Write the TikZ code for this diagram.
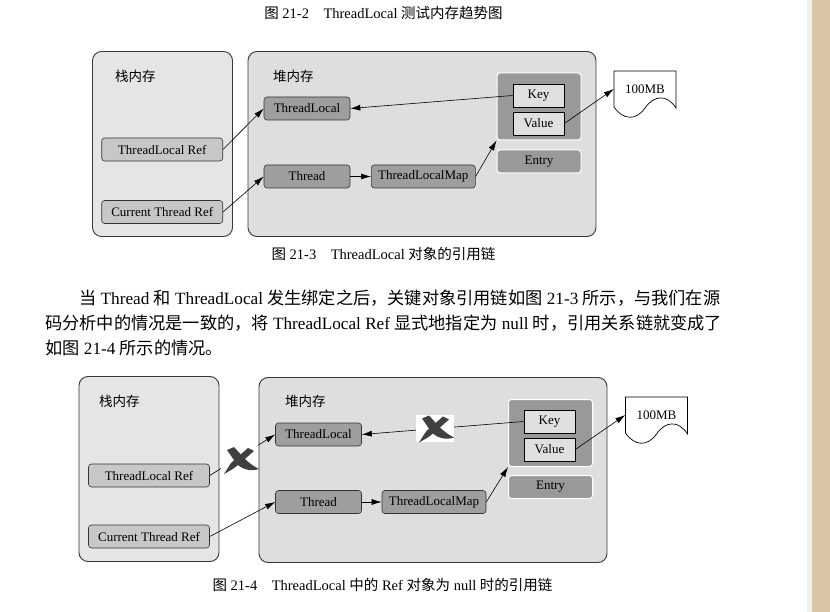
\documentclass[tikz,border=0pt]{standalone}
\usepackage{fontspec}
\setmainfont{Liberation Serif}
\newfontfamily\cjk{Noto Sans CJK SC}
\usepackage{xcolor}
\usetikzlibrary{arrows.meta, positioning}

\definecolor{paper}{HTML}{D9C6A5}

\tikzset{
    brushx/.pic={
        \fill[black!75] (-13,-10) -- (-6,-13) -- (4,-2) .. controls (9,3) and (13,6) .. (19,9) .. controls (10,12) and (1,9) .. (-4,3) -- cycle;
        \fill[black!75] (8,-12) -- (14,-9) -- (-2,5) .. controls (-7,9) .. (-16,14) .. controls (-13,8) .. (-9,3) -- cycle;
    }
}

\begin{document}
\begin{tikzpicture}[
    x=1pt, y=-1pt,
    mem/.style={draw=black!78, line width=0.9pt, rounded corners=9pt, fill=black!10, minimum width=140pt, minimum height=185pt, inner sep=0pt},
    heapbox/.style={mem, fill=black!13, minimum width=348pt},
    title/.style={font=\cjk\fontsize{13.5}{13.5}\selectfont, anchor=west, inner sep=0pt},
    obj/.style={draw=black!80, line width=0.6pt, rounded corners=3pt, fill=black!38, minimum width=86pt, minimum height=23pt, inner sep=0pt, font=\fontsize{13}{13}\selectfont},
    ref/.style={obj, fill=black!22, minimum width=121pt},
    map/.style={obj, minimum width=104pt},
    group/.style={draw=white, line width=1pt, rounded corners=3pt, fill=black!40, minimum width=84pt, inner sep=0pt, font=\fontsize{13}{13}\selectfont},
    kv/.style={draw=black, line width=0.6pt, fill=black!12, minimum width=51pt, minimum height=23pt, inner sep=0pt, font=\fontsize{13}{13}\selectfont},
    doc/.style={minimum width=62pt, minimum height=36pt, inner sep=0pt, font=\fontsize{13}{13}\selectfont},
    docline/.style={draw=black, line width=0.7pt},
    arrow/.style={-{Latex[length=10pt, width=6pt]}, line width=0.6pt},
    caption/.style={font=\fontsize{14.5}{14.5}\selectfont, anchor=base, inner sep=0pt},
    body/.style={font=\fontsize{17.2}{17.2}\selectfont, anchor=base west, inner sep=0pt}
]
    \useasboundingbox (0,0) rectangle (830,612);
    % page edge
    \fill[black!6] (807,0) rectangle (811.5,612);
    \fill[paper] (811.5,0) rectangle (830,612);

    % Figure 21-2 caption
    \node[caption] (cap212) at (383.5,18.5) {{\cjk 图} 21-2\hspace{1em}ThreadLocal {\cjk 测试内存趋势图}};

    % Figure 21-3: memory areas
    \node[mem] (stack1) at (162.5,144) {};
    \node[heapbox] (heap1) at (422,144) {};
    \node[title] (stacklbl1) at (115,76.5) {栈内存};
    \node[title] (heaplbl1) at (273,76.5) {堆内存};

    % Figure 21-3: objects
    \node[obj] (tl1) at (307,108.5) {ThreadLocal};
    \node[ref] (tlref1) at (162.2,149.5) {ThreadLocal Ref};
    \node[ref] (ctref1) at (162.2,212) {Current Thread Ref};
    \node[obj] (thread1) at (307,176.5) {Thread};
    \node[map] (map1) at (423.3,176.5) {ThreadLocalMap};
    \node[group, minimum height=67pt] (grp1) at (539,106.5) {};
    \node[kv] (key1) at (538.5,95.5) {Key};
    \node[kv] (value1) at (538.5,123.5) {Value};
    \node[group, minimum height=23pt] (entry1) at (539,161.5) {Entry};
    \node[doc] (mb1) at (645,89) {100MB};
    \draw[docline, shift={(mb1.center)}] (-31,18) -- (-31,-18) -- (31,-18) -- (31,19)
        .. controls (22,5) and (9,6) .. (0,19) .. controls (-9,32) and (-22,31) .. (-31,18);

    % Figure 21-3: references
    \draw[arrow] (tlref1.east) -- (tl1.west);
    \draw[arrow] (ctref1.east) -- (thread1.west);
    \draw[arrow] (thread1) -- (map1);
    \draw[arrow] (map1.east) -- (grp1.south west);
    \draw[arrow] (key1.west) -- (tl1.east);
    \draw[arrow] (value1.east) -- (mb1.west);

    \node[caption] (cap213) at (383.5,259.5) {{\cjk 图} 21-3\hspace{1em}ThreadLocal {\cjk 对象的引用链}};

    % Text
    \node[body] (line1) at (79,304.5) {{\cjk 当} Thread {\cjk 和} ThreadLocal {\cjk 发生绑定之后，关键对象引用链如图} 21-3 {\cjk 所示，与我们在源}};
    \node[body] (line2) at (45,329.5) {{\cjk 码分析中的情况是一致的，将} ThreadLocal Ref {\cjk 显式地指定为} null {\cjk 时，引用关系链就变成了}};
    \node[body] (line3) at (45,354.5) {{\cjk 如图} 21-4 {\cjk 所示的情况。}};

    % Figure 21-4: memory areas
    \node[mem] (stack2) at (149,469) {};
    \node[heapbox] (heap2) at (433,470) {};
    \node[title] (stacklbl2) at (99,401.5) {栈内存};
    \node[title] (heaplbl2) at (285,401.5) {堆内存};

    % Figure 21-4: objects
    \node[obj] (tl2) at (318.5,434.5) {ThreadLocal};
    \node[ref] (tlref2) at (149,475.5) {ThreadLocal Ref};
    \node[ref] (ctref2) at (149,536.5) {Current Thread Ref};
    \node[obj] (thread2) at (318.5,502) {Thread};
    \node[map] (map2) at (434,502) {ThreadLocalMap};
    \node[group, minimum height=67pt] (grp2) at (550.5,433) {};
    \node[kv] (key2) at (549.5,421.5) {Key};
    \node[kv] (value2) at (549.5,449.5) {Value};
    \node[group, minimum height=23pt] (entry2) at (550.5,487) {Entry};
    \node[doc] (mb2) at (656.5,415) {100MB};
    \draw[docline, shift={(mb2.center)}] (-31,18) -- (-31,-18) -- (31,-18) -- (31,19)
        .. controls (22,5) and (9,6) .. (0,19) .. controls (-9,32) and (-22,31) .. (-31,18);

    % Figure 21-4: references
    \draw[arrow] (tlref2.east) -- (tl2.west);
    \draw[arrow] (ctref2.east) -- (thread2.west);
    \draw[arrow] (thread2) -- (map2);
    \draw[arrow] (map2.east) -- (grp2.south west);
    \draw[arrow] (key2.west) -- (tl2.east);
    \draw[arrow] (value2.east) -- (mb2.west);

    % broken links
    \fill[white] (220.5,445) rectangle (257.5,475);
    \pic at (240,460) {brushx};
    \fill[white] (416,415) rectangle (454,442);
    \pic at (435,428.5) {brushx};

    \node[caption] (cap214) at (382.5,590.5) {{\cjk 图} 21-4\hspace{1em}ThreadLocal {\cjk 中的} Ref {\cjk 对象为} null {\cjk 时的引用链}};
\end{tikzpicture}
\end{document}
